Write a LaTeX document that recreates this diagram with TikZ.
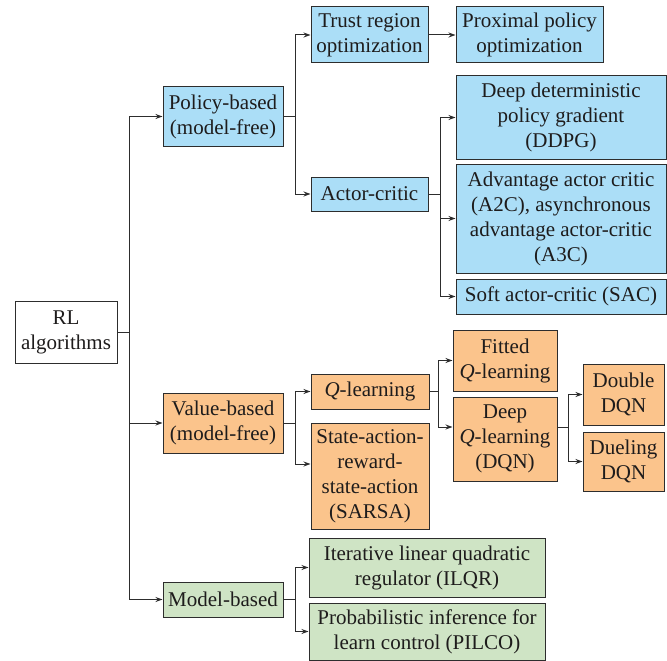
\documentclass[tikz,border=0pt]{standalone}
\usepackage{fontspec}
\setmainfont{Liberation Serif}
\usetikzlibrary{arrows.meta,calc}
\definecolor{bluef}{RGB}{171,222,247}
\definecolor{orangef}{RGB}{251,196,140}
\definecolor{greenf}{RGB}{207,228,197}
\definecolor{linec}{RGB}{45,45,45}
\definecolor{textc}{RGB}{30,28,28}
\begin{document}
\begin{tikzpicture}[x=1pt,y=-1pt,
  box/.style={draw=linec, line width=1pt, align=center, inner sep=0pt,
    text=textc, font=\fontsize{21}{25}\selectfont},
  bb/.style={box, fill=bluef},
  ob/.style={box, fill=orangef},
  gb/.style={box, fill=greenf},
  wh/.style={box, fill=white},
  conn/.style={draw=linec, line width=1pt},
  arr/.style={conn, -{Stealth[length=7pt,width=5pt]}}
]
\useasboundingbox (0,0) rectangle (667,661);
% nodes
\node[wh, minimum width=102pt, minimum height=62pt] (RL) at (66,332) {RL\\algorithms};
\node[bb, minimum width=120pt, minimum height=59pt] (Pol) at (223,116.5) {Policy-based\\(model-free)};
\node[ob, minimum width=120pt, minimum height=60pt] (Val) at (223,423) {Value-based\\(model-free)};
\node[gb, minimum width=120pt, minimum height=35pt] (Mod) at (223,599.5) {Model-based};
\node[bb, minimum width=117pt, minimum height=56pt] (Tru) at (369.5,35) {Trust region\\optimization};
\node[bb, minimum width=147pt, minimum height=56pt] (Pro) at (529.5,35) {Proximal policy\\optimization};
\node[bb, minimum width=117pt, minimum height=34pt] (Act) at (369.5,194) {Actor-critic};
\node[bb, minimum width=210pt, minimum height=83pt] (DDPG) at (561,117.5) {Deep deterministic\\policy gradient\\(DDPG)};
\node[bb, minimum width=210pt, minimum height=109pt] (A2C) at (561,218.5) {Advantage actor critic\\(A2C), asynchronous\\advantage actor-critic\\(A3C)};
\node[bb, minimum width=210pt, minimum height=35pt] (SAC) at (561,296.5) {Soft actor-critic (SAC)};
\node[ob, minimum width=118pt, minimum height=35pt] (QL) at (370,391.5) {\textit{Q}-learning};
\node[ob, minimum width=118pt, minimum height=106pt] (SAR) at (370,476) {State-action-\\reward-\\state-action\\(SARSA)};
\node[ob, minimum width=104pt, minimum height=61pt] (Fit) at (505,360.5) {Fitted\\\textit{Q}-learning};
\node[ob, minimum width=104pt, minimum height=84pt] (DQN) at (505,439) {Deep\\\textit{Q}-learning\\(DQN)};
\node[ob, minimum width=81pt, minimum height=61pt] (Dou) at (623.5,394.5) {Double\\DQN};
\node[ob, minimum width=81pt, minimum height=59pt] (Due) at (623.5,461.5) {Dueling\\DQN};
\node[gb, minimum width=236pt, minimum height=59pt] (ILQR) at (427,567.5) {Iterative linear quadratic\\regulator (ILQR)};
\node[gb, minimum width=236pt, minimum height=57pt] (PIL) at (427,631.5) {Probabilistic inference for\\learn control (PILCO)};
% connectors
\draw[conn] (RL.east) -- ++(12,0) coordinate (t0);
\draw[arr] (t0) |- (Pol.west);
\draw[arr] (t0) |- (Val.west);
\draw[arr] (t0) |- (Mod.west);
\draw[conn] (Pol.east) -- ++(12,0) coordinate (t1);
\draw[arr] (t1) |- (Tru.west);
\draw[arr] (t1) |- (Act.west);
\draw[arr] (Tru.east) -- (Pro.west);
\draw[conn] (Act.east) -- ++(12,0) coordinate (t2);
\draw[arr] (t2) |- (DDPG.west);
\draw[arr] (t2) |- (A2C.west);
\draw[arr] (t2) |- (SAC.west);
\draw[conn] (Val.east) -- ++(12,0) coordinate (t3);
\draw[arr] (t3) |- (QL.west);
\draw[arr] (t3) |- ($(SAR.west)+(0,-12)$);
\draw[conn] (QL.east) -- ++(9,0) coordinate (t4);
\draw[arr] (t4) |- (Fit.west);
\draw[arr] (t4) |- ($(DQN.west)+(0,-12)$);
\draw[conn] ($(DQN.east)+(0,-12)$) -- ++(11,0) coordinate (t5);
\draw[arr] (t5) |- (Dou.west);
\draw[arr] (t5) |- (Due.west);
\draw[conn] (Mod.east) -- ++(12,0) coordinate (t6);
\draw[arr] (t6) |- (ILQR.west);
\draw[arr] (t6) |- (PIL.west);
\end{tikzpicture}
\end{document}
